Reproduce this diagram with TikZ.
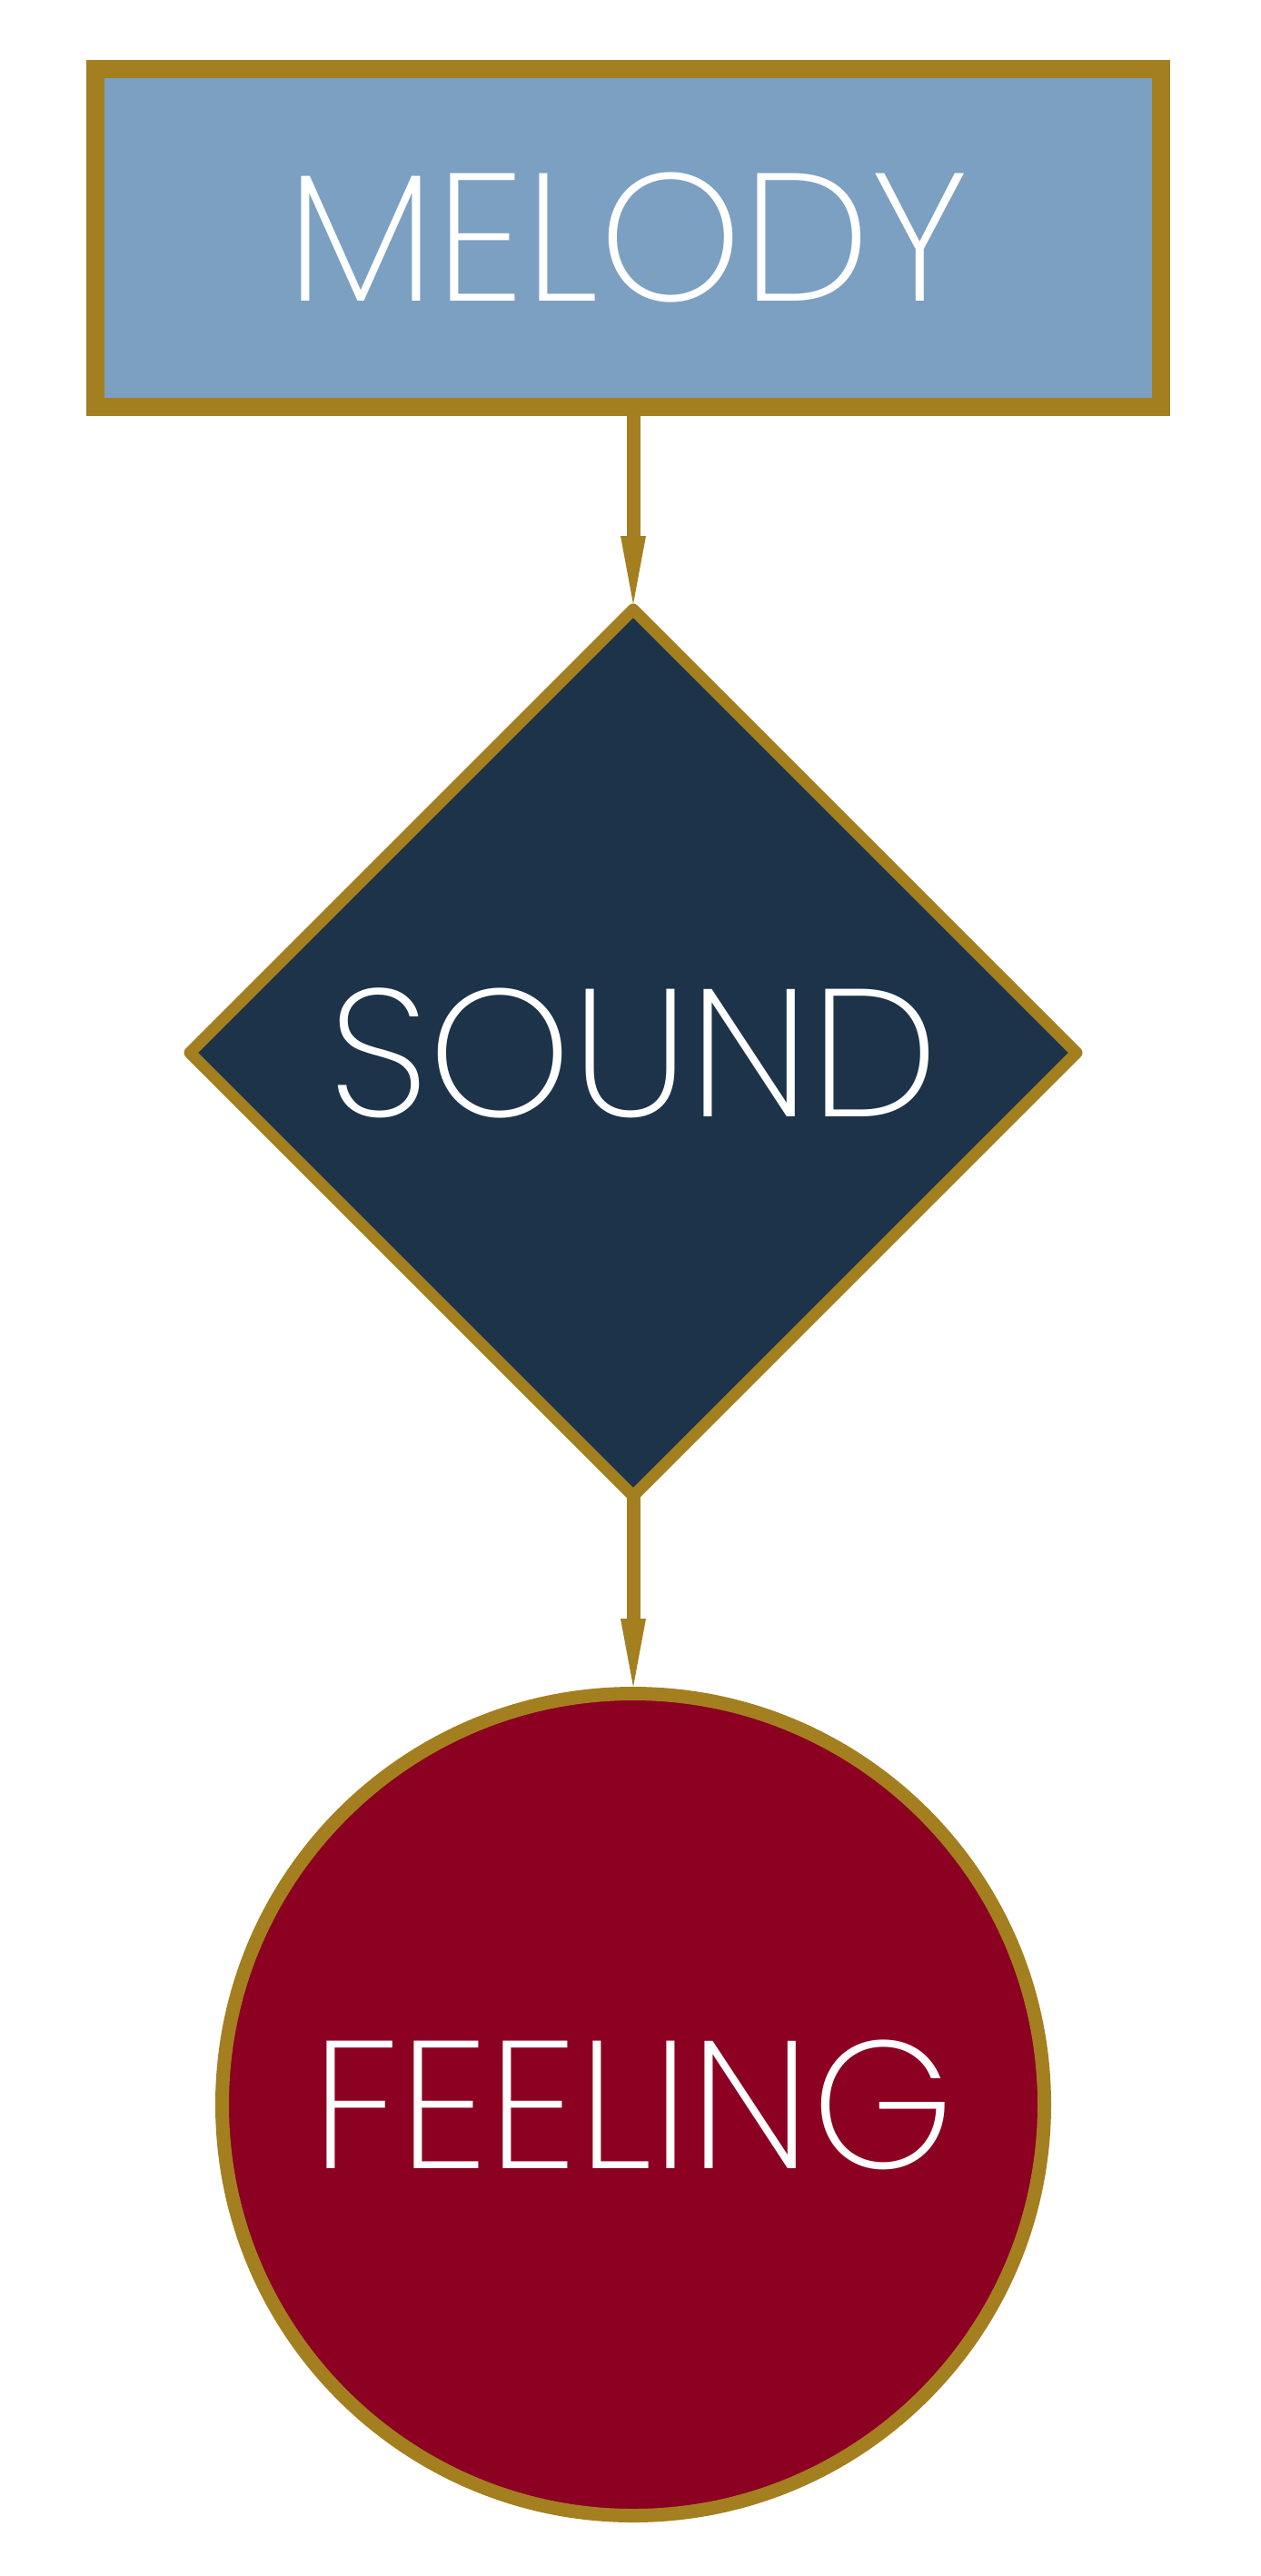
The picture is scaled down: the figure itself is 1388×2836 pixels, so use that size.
\documentclass[tikz,border=0pt]{standalone}
\usepackage{fontspec}
\setmainfont{Poppins ExtraLight}
\usetikzlibrary{shapes.geometric,arrows.meta}
\definecolor{gold}{RGB}{164,127,31}
\definecolor{melodyblue}{RGB}{123,160,194}
\definecolor{sounddark}{RGB}{28,51,73}
\definecolor{feelred}{RGB}{140,0,34}

\begin{document}
\begin{tikzpicture}[x = 1pt, y = -1pt,
                word/.style = {text = white, font = \fontsize{200}{240}\selectfont},
                link/.style = {draw = gold, line width = 15pt, -{Triangle[length = 75pt, width = 28pt, line width = 0pt]}}]
                \useasboundingbox (0,0) rectangle (1388,2836);
                \node[word, draw = gold, fill = melodyblue, line width = 20pt, minimum width = 1173pt, minimum height = 372pt] (melody) at (691, 262) {MELODY};
                \node[word, diamond, draw = gold, fill = sounddark, line width = 13pt, line join = round, outer sep = 0pt, minimum width = 976pt, minimum height = 976pt] (sound) at (697, 1159) {SOUND};
                \node[word, circle, draw = gold, fill = feelred, line width = 15pt, minimum size = 905pt] (feeling) at (697, 2317) {FEELING};
                \draw[link] (sound.north |- melody.south) -- ([yshift = 6pt] sound.north);
                \draw[link] (sound.south) -- (feeling.north);
\end{tikzpicture}
\end{document}
